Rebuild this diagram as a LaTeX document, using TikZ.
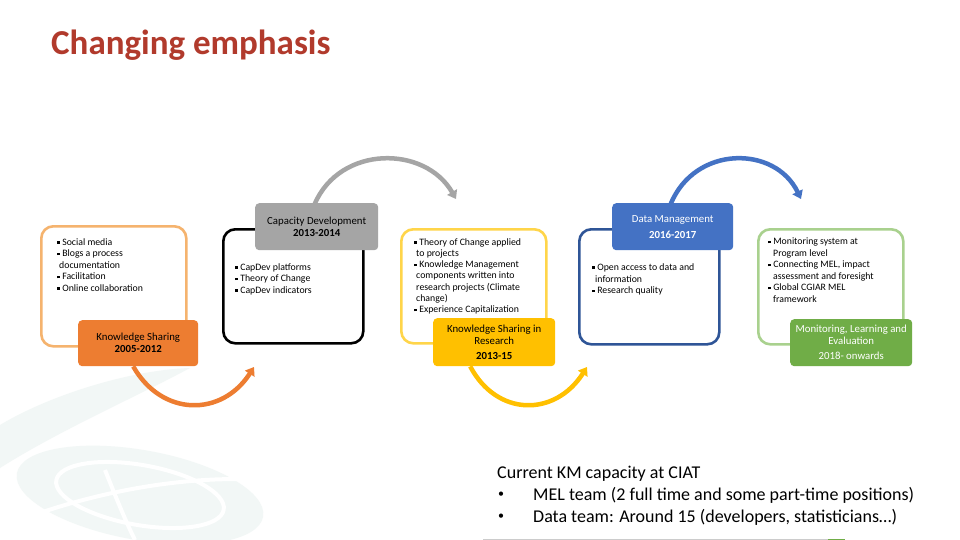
\documentclass[tikz,border=0pt]{standalone}
\usepackage{fontspec}
\setmainfont{Carlito}
\usetikzlibrary{arrows.meta}
\definecolor{titlered}{HTML}{B13A2C}
\definecolor{orOut}{HTML}{F5B36E}
\definecolor{orFill}{HTML}{ED7D31}
\definecolor{grFill}{HTML}{A5A5A5}
\definecolor{ylOut}{HTML}{FFD54A}
\definecolor{ylFill}{HTML}{FFC000}
\definecolor{blOut}{HTML}{2F5597}
\definecolor{blFill}{HTML}{4472C4}
\definecolor{gnOut}{HTML}{A9D18E}
\definecolor{gnFill}{HTML}{70AD47}
\definecolor{wmark}{HTML}{F2F7F6}
\newcommand{\sqb}{\rule[1.5pt]{2.6pt}{2.6pt}\hspace{2.5pt}}
\begin{document}
\begin{tikzpicture}[x=1pt,y=-1pt,
  outbox/.style={draw, line width=2.6pt, rounded corners=12pt, anchor=north west},
  fillbox/.style={rounded corners=4pt, anchor=north west, align=center, inner sep=0pt,
     font=\fontsize{10.8}{12}\selectfont},
  btext/.style={anchor=north west, align=left, inner sep=0pt, font=\fontsize{9.8}{11.6}\selectfont},
  btm/.style={anchor=west, inner sep=0pt, font=\fontsize{18}{21.5}\selectfont},
  arc/.style={line width=4.5pt, -{Triangle[length=8pt,width=11pt]}}]
\useasboundingbox (0,0) rectangle (960,540);
\fill[white] (0,0) rectangle (960,540);
% faint watermark
\fill[wmark] (0,425) .. controls (50,395) and (130,370) .. (190,368) .. controls (140,395) and (60,430) .. (0,468) -- cycle;
\fill[wmark, rotate around={-10:(140,495)}] (140,495) ellipse (125pt and 45pt);
\draw[white, line width=4pt, rotate around={-10:(140,495)}] (140,495) ellipse (85pt and 30pt);
\draw[white, line width=4pt] (20,520) .. controls (100,490) and (190,475) .. (265,480);
\draw[white, line width=4pt] (105,470) .. controls (115,495) and (125,520) .. (135,540);

\node[anchor=west, inner sep=0pt, text=titlered, font=\fontsize{35}{40}\selectfont\bfseries] (title) at (51,45) {Changing emphasis};

% outline boxes
\node[outbox, draw=orOut, minimum width=145pt, minimum height=120pt] (o1) at (40,225) {};
\node[outbox, draw=black, minimum width=140pt, minimum height=114pt] (o2) at (222,228) {};
\node[outbox, draw=ylOut, minimum width=145pt, minimum height=114pt] (o3) at (400,228) {};
\node[outbox, draw=blOut, minimum width=140pt, minimum height=115pt] (o4) at (578,228) {};
\node[outbox, draw=gnOut, minimum width=145pt, minimum height=115pt] (o5) at (757,228) {};

% bullet texts
\node[btext] (t1) at (57,238) {\sqb Social media\\ \sqb Blogs a process\\ \hspace*{2pt}documentation\\ \sqb Facilitation\\ \sqb Online collaboration};
\node[btext] (t2) at (235,263) {\sqb CapDev platforms\\ \sqb Theory of Change\\ \sqb CapDev indicators};
\node[btext, font=\fontsize{9.8}{11.3}\selectfont] (t3) at (414,238) {\sqb Theory of Change applied\\ \hspace*{2pt}to projects\\ \sqb Knowledge Management\\ \hspace*{2pt}components written into\\ \hspace*{2pt}research projects (Climate\\ \hspace*{2pt}change)\\ \sqb Experience Capitalization};
\node[btext] (t4) at (592,263.5) {\sqb Open access to data and\\ \hspace*{3pt}information\\ \sqb Research quality};
\node[btext, font=\fontsize{9.8}{11.5}\selectfont] (t5) at (768,238) {\sqb Monitoring system at\\ \hspace*{5pt}Program level\\ \sqb Connecting MEL, impact\\ \hspace*{5pt}assessment and foresight\\ \sqb Global CGIAR MEL\\ \hspace*{5pt}framework};

% filled boxes
\node[fillbox, fill=orFill, minimum width=120pt, minimum height=46pt] (f1) at (78,320) {Knowledge Sharing\\ \textbf{2005-2012}};
\node[fillbox, fill=grFill, minimum width=123pt, minimum height=47pt] (f2) at (255,203) {Capacity Development\\ \textbf{2013-2014}};
\node[fillbox, fill=ylFill, minimum width=122pt, minimum height=48pt] (f3) at (433,318) {Knowledge Sharing in\\ Research\\[3pt] \textbf{2013-15}};
\node[fillbox, fill=blFill, text=white, minimum width=121pt, minimum height=47pt] (f4) at (612,203) {Data Management\\[4pt] \textbf{2016-2017}};
\node[fillbox, fill=gnFill, text=white, minimum width=122pt, minimum height=47pt] (f5) at (790,319) {Monitoring, Learning and\\ Evaluation\\[3pt] 2018- onwards};

% arrows
\coordinate (e1) at (254,367);
\coordinate (e2) at (456,199);
\coordinate (e3) at (587,367);
\coordinate (e4) at (801,199);
\draw[arc, orFill] ([xshift=-5pt]f1.south) .. controls (162,417) and (222,417) .. (e1);
\draw[arc, grFill] ([xshift=-2pt,yshift=-1pt]f2.north) .. controls (340,145) and (425,145) .. (e2);
\draw[arc, ylFill] ([xshift=-24pt]f3.south) .. controls (497,417) and (555,417) .. (e3);
\draw[arc, blFill] ([xshift=-2pt,yshift=-1pt]f4.north) .. controls (695,145) and (775,145) .. (e4);

% bottom text
\node[btm] (cur) at (497,474) {Current KM capacity at CIAT};
\node[btm, font=\fontsize{12}{14}\selectfont] (b1) at (498,495) {•};
\node[btm] (l1) at (533,495) {MEL team (2 full time and some part-time positions)};
\node[btm, font=\fontsize{12}{14}\selectfont] (b2) at (498,517) {•};
\node[btm] (l2) at (533,517) {Data team: Around 15 (developers, statisticians…)};
\draw[gray!40, line width=1pt] (483,539) -- (828,539);
\draw[gnFill, line width=1pt] (828,539) -- (845,539);
\end{tikzpicture}
\end{document}
